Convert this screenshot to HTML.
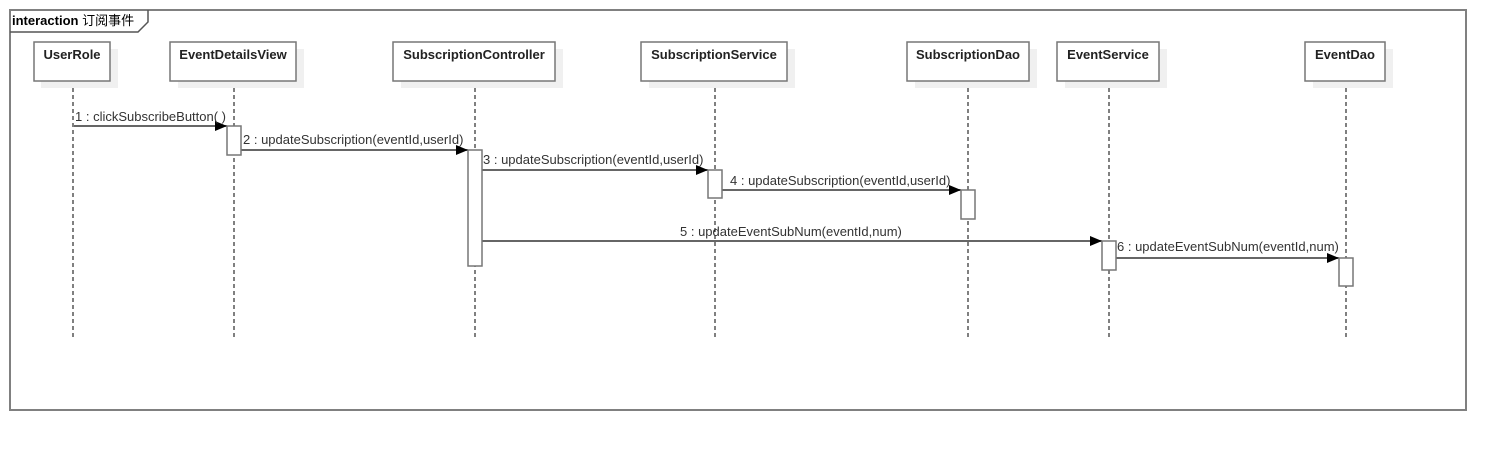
<!DOCTYPE html>
<html><head><meta charset="utf-8"><style>html,body{margin:0;padding:0;background:#fff;width:1506px;height:450px;overflow:hidden}</style></head>
<body>
<svg width="1506" height="450" xmlns="http://www.w3.org/2000/svg" font-family="Liberation Sans, Noto Sans CJK SC, sans-serif" font-size="13">
<defs><marker id="a" markerWidth="12" markerHeight="10" refX="12" refY="5" orient="auto" markerUnits="userSpaceOnUse"><path d="M0,0 L12,5 L0,10 Z" fill="#000"/></marker></defs>
<rect x="10" y="10" width="1456" height="400" fill="none" stroke="#808080" stroke-width="2"/>
<path d="M10,32 L138,32 L148,22 L148,10" fill="none" stroke="#555" stroke-width="1.5"/>
<text x="12" y="25" font-weight="bold" fill="#000" font-size="13">interaction <tspan font-weight="normal">订阅事件</tspan></text>
<g stroke="#000" stroke-width="1" stroke-dasharray="4,3">
<line x1="73" y1="81" x2="73" y2="337"/><line x1="234" y1="81" x2="234" y2="337"/><line x1="475" y1="81" x2="475" y2="337"/><line x1="715" y1="81" x2="715" y2="337"/><line x1="968" y1="81" x2="968" y2="337"/><line x1="1109" y1="81" x2="1109" y2="337"/><line x1="1346" y1="81" x2="1346" y2="337"/>
</g>
<g fill="#f0f0f0">
<rect x="41" y="49" width="77" height="39"/><rect x="178" y="49" width="126" height="39"/><rect x="401" y="49" width="162" height="39"/><rect x="649" y="49" width="146" height="39"/><rect x="915" y="49" width="122" height="39"/><rect x="1065" y="49" width="102" height="39"/><rect x="1313" y="49" width="80" height="39"/>
</g>
<g fill="#fff" stroke="#777" stroke-width="1.5">
<rect x="34" y="42" width="76" height="39"/><rect x="170" y="42" width="126" height="39"/><rect x="393" y="42" width="162" height="39"/><rect x="641" y="42" width="146" height="39"/><rect x="907" y="42" width="122" height="39"/><rect x="1057" y="42" width="102" height="39"/><rect x="1305" y="42" width="80" height="39"/>
</g>
<g font-weight="bold" text-anchor="middle" fill="#222">
<text x="72" y="59">UserRole</text><text x="233" y="59">EventDetailsView</text><text x="474" y="59">SubscriptionController</text><text x="714" y="59">SubscriptionService</text><text x="968" y="59">SubscriptionDao</text><text x="1108" y="59">EventService</text><text x="1345" y="59">EventDao</text>
</g>
<g stroke="#666" stroke-width="2" marker-end="url(#a)">
<line x1="74" y1="126" x2="227" y2="126"/><line x1="241" y1="150" x2="468" y2="150"/><line x1="482" y1="170" x2="708" y2="170"/><line x1="722" y1="190" x2="961" y2="190"/><line x1="482" y1="241" x2="1102" y2="241"/><line x1="1116" y1="258" x2="1339" y2="258"/>
</g>
<g fill="#fff" stroke="#777" stroke-width="1.5">
<rect x="227" y="126" width="14" height="29"/><rect x="468" y="150" width="14" height="116"/><rect x="708" y="170" width="14" height="28"/><rect x="961" y="190" width="14" height="29"/><rect x="1102" y="241" width="14" height="29"/><rect x="1339" y="258" width="14" height="28"/>
</g>
<g fill="#333">
<text x="75" y="121">1 : clickSubscribeButton( )</text>
<text x="243" y="144">2 : updateSubscription(eventId,userId)</text>
<text x="483" y="164">3 : updateSubscription(eventId,userId)</text>
<text x="730" y="185">4 : updateSubscription(eventId,userId)</text>
<text x="680" y="236">5 : updateEventSubNum(eventId,num)</text>
<text x="1117" y="251">6 : updateEventSubNum(eventId,num)</text>
</g>
</svg>
</body></html>
